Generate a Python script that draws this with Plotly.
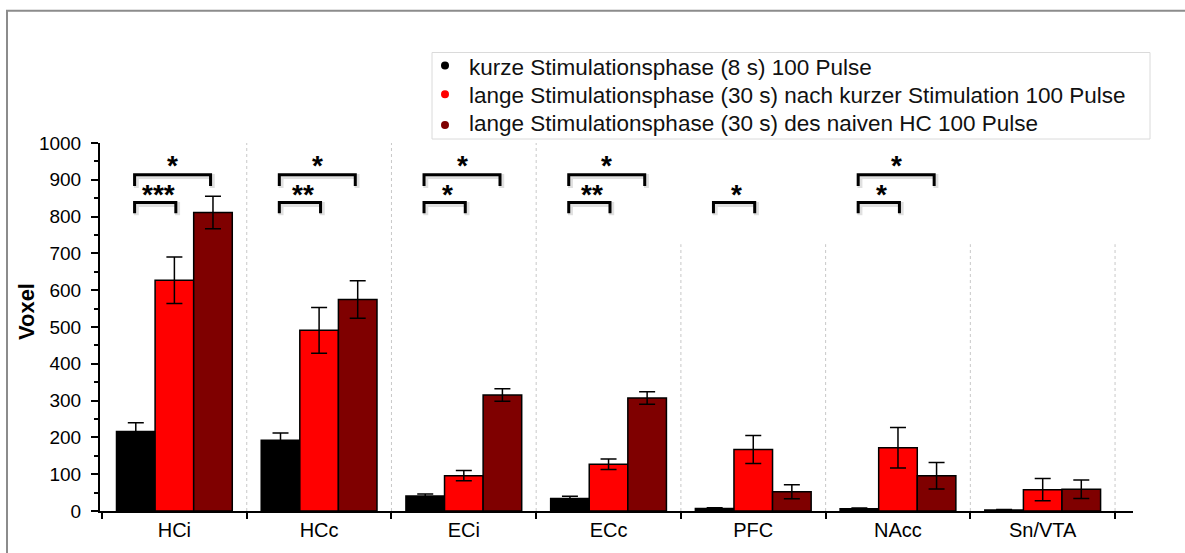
import plotly.graph_objects as go

categories = ["HCi", "HCc", "ECi", "ECc", "PFC", "NAcc", "Sn/VTA"]
series_names = [
    "kurze Stimulationsphase (8 s) 100 Pulse",
    "lange Stimulationsphase (30 s) nach kurzer Stimulation 100 Pulse",
    "lange Stimulationsphase (30 s) des naiven HC 100 Pulse",
]
kurz = [216, 192, 41, 34, 7, 6, 3]
kurz_err = [24, 20, 5, 6, 2, 2, 1]
lang_nach = [627, 491, 96, 127, 167, 172, 58]
lang_nach_err = [63, 62, 14, 14, 38, 55, 30]
lang_naiv = [811, 575, 315, 307, 52, 96, 59]
lang_naiv_err = [44, 51, 17, 17, 19, 36, 25]
colors = ["#000000", "#ff0000", "#7f0000"]

# significance: (category index, lower stars, upper stars)
sig = [(0, "***", "*"), (1, "**", "*"), (2, "*", "*"), (3, "**", "*"),
       (4, "*", None), (5, "*", "*")]

FONT = "Liberation Sans, Arial, sans-serif"
xpos = list(range(len(categories)))

# pixel geometry of the plot area
PL, PW, PT, PH = 100, 1033, 143, 370


def px_x(p):
    return (p - PL) / PW


def px_y(p):
    return (PT + PH - p) / PH


fig = go.Figure()
for name, vals, errs, col in zip(series_names, [kurz, lang_nach, lang_naiv],
                                  [kurz_err, lang_nach_err, lang_naiv_err], colors):
    fig.add_trace(go.Bar(
        x=xpos, y=vals, name=name, showlegend=False,
        marker=dict(color=col, line=dict(color="#000000", width=1.5)),
        error_y=dict(type="data", array=errs, color="#000000", thickness=1.5, width=8),
    ))

shapes = []
annotations = []
# dotted separators
for b in [0.5, 1.5, 2.5]:
    shapes.append(dict(type="line", xref="x", yref="y", x0=b, x1=b, y0=0, y1=1000,
                       line=dict(color="#c8c8c8", width=1, dash="dot"), layer="below"))
for b in [3.5, 4.5, 5.5, 6.5]:
    shapes.append(dict(type="line", xref="x", yref="y", x0=b, x1=b, y0=0, y1=725,
                       line=dict(color="#c8c8c8", width=1, dash="dot"), layer="below"))

L, RLOW, RUP = -0.275, 0.01, 0.25
LOW_Y, LOW_LEG = 838, 809
UP_Y, UP_LEG = 914, 883


def bracket(x0, x1, ytop, yleg):
    shapes.append(dict(type="path", xref="x", yref="y",
                       path=f"M {x0+0.012},{yleg-5} L {x0+0.012},{ytop-5} L {x1+0.012},{ytop-5} L {x1+0.012},{yleg-5}",
                       line=dict(color="rgba(0,0,0,0.12)", width=5)))
    shapes.append(dict(type="path", xref="x", yref="y",
                       path=f"M {x0},{yleg} L {x0},{ytop} L {x1},{ytop} L {x1},{yleg}",
                       line=dict(color="#000000", width=3)))


STAR_FONT = dict(size=28, family=FONT, color="#000")
for i, low, up in sig:
    bracket(i + L, i + RLOW, LOW_Y, LOW_LEG)
    annotations.append(dict(x=i + (L + RLOW) / 2 + 0.02, y=860, xref="x", yref="y",
                            text=f"<b>{low}</b>", showarrow=False, font=STAR_FONT,
                            xanchor="center", yanchor="middle"))
    if up:
        bracket(i + L, i + RUP, UP_Y, UP_LEG)
        annotations.append(dict(x=i + (L + RUP) / 2, y=939, xref="x", yref="y",
                                text=f"<b>{up}</b>", showarrow=False, font=STAR_FONT,
                                xanchor="center", yanchor="middle"))

# legend (box, dots, labels)
shapes.append(dict(type="rect", xref="paper", yref="paper",
                   x0=px_x(432), x1=px_x(1150), y0=px_y(139), y1=px_y(52),
                   line=dict(color="#dadada", width=1), fillcolor="white"))
leg_text_y = [67, 95, 123]
leg_dot_y = [65, 94, 125]
for name, col, ty, dy in zip(series_names, colors, leg_text_y, leg_dot_y):
    shapes.append(dict(type="circle", xref="paper", yref="paper",
                       x0=px_x(441), x1=px_x(449), y0=px_y(dy + 4), y1=px_y(dy - 4),
                       line=dict(color=col, width=0), fillcolor=col))
    annotations.append(dict(x=px_x(467), y=px_y(ty), xref="paper", yref="paper",
                            text=name, showarrow=False, xanchor="left", yanchor="middle",
                            font=dict(size=22.5, family=FONT, color="#111")))

# outer frame (top and left edges visible)
shapes.append(dict(type="path", xref="paper", yref="paper",
                   path=f"M {px_x(7)},{px_y(560)} L {px_x(7)},{px_y(10)} L {px_x(1185)},{px_y(10)}",
                   line=dict(color="#8c8c8c", width=2)))

annotations.append(dict(x=px_x(26), y=px_y(313), xref="paper", yref="paper",
                        text="<b>Voxel</b>", showarrow=False, textangle=-90,
                        xanchor="center", yanchor="middle",
                        font=dict(size=22, family=FONT, color="#000")))

fig.update_layout(
    width=1185, height=553,
    margin=dict(l=PL, r=1185 - PL - PW, t=PT, b=553 - PT - PH),
    paper_bgcolor="white", plot_bgcolor="white",
    barmode="group", bargap=0.2, bargroupgap=0,
    font=dict(family=FONT, color="#000"),
    shapes=shapes, annotations=annotations,
    showlegend=False,
    xaxis=dict(range=[-0.514, 6.624], tickmode="array", tickvals=xpos, ticktext=categories,
               ticks="", showline=True, linecolor="#000", linewidth=2, showgrid=False,
               zeroline=False, tickfont=dict(size=20, family=FONT, color="#000"),
               minor=dict(tickmode="linear", tick0=-0.5, dtick=1, ticks="outside",
                          ticklen=6, tickwidth=2, tickcolor="#000", showgrid=False)),
    yaxis=dict(range=[0, 1000], dtick=100, ticks="outside", ticklen=7, tickwidth=2,
               tickcolor="#000", showline=True, linecolor="#000", linewidth=2,
               showgrid=False, zeroline=False, ticklabelstandoff=6,
               tickfont=dict(size=19, family=FONT, color="#000"),
               minor=dict(dtick=50, ticks="outside", ticklen=4, tickwidth=2,
                          tickcolor="#000", showgrid=False)),
)

fig.write_html("out.html")
